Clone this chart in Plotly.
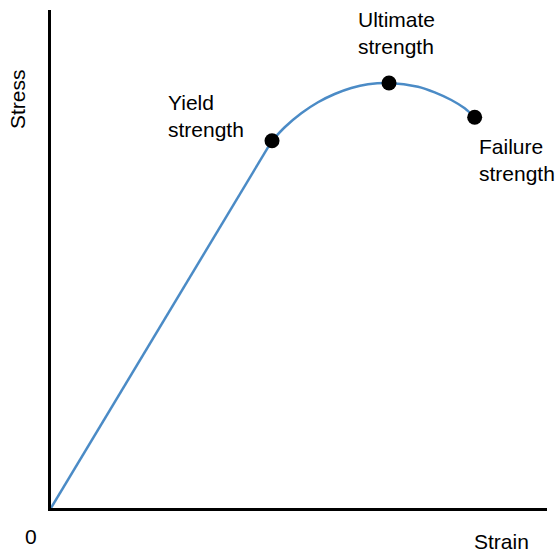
import plotly.graph_objects as go

# Stress–strain curve, normalised units (strain and stress both on 0..1)
linear_strain = [0.0, 0.4456]
linear_stress = [0.0, 0.7375]

plastic_strain = [0.4456, 0.4712, 0.5046, 0.5383, 0.572, 0.6054, 0.6391, 0.6815,
                  0.7399, 0.7736, 0.8071, 0.8341, 0.8542]
plastic_stress = [0.7375, 0.7645, 0.7926, 0.8147, 0.8313, 0.8434, 0.8508, 0.8534,
                  0.846, 0.8347, 0.8193, 0.8026, 0.7845]

# Key points: yield, ultimate, failure
point_names = ["Yield strength", "Ultimate strength", "Failure strength"]
point_strain = [0.4456, 0.6815, 0.8542]
point_stress = [0.7375, 0.8534, 0.7845]

FONT = "Liberation Sans, Arial, Helvetica, sans-serif"
CURVE = "#4b8bc6"
FS = 21

fig = go.Figure()
fig.add_trace(go.Scatter(x=linear_strain, y=linear_stress, mode="lines",
                         line=dict(color=CURVE, width=2.5), hoverinfo="skip"))
fig.add_trace(go.Scatter(x=plastic_strain, y=plastic_stress, mode="lines",
                         line=dict(color=CURVE, width=2.5, shape="spline", smoothing=0.8),
                         hoverinfo="skip"))
fig.add_trace(go.Scatter(x=point_strain, y=point_stress, mode="markers",
                         marker=dict(color="black", size=15), text=point_names))

W, H = 556, 552
L, R, T, B = 51, 9, 10, 44
pw, ph = W - L - R, H - T - B


def px(x):
    return (x - L) / pw


def py(y):
    return (H - B - y) / ph


labels = [
    ("Yield<br>strength", px(166), py(116), "left", "middle"),
    ("Ultimate<br>strength", px(396), py(33), "center", "middle"),
    ("Failure<br>strength", px(477), py(160), "left", "middle"),
]
annotations = []
for text, x, y, xa, ya in labels:
    annotations.append(dict(text=text, x=x, y=y, xref="paper", yref="paper",
                            xanchor=xa, yanchor=ya, align="left", showarrow=False,
                            font=dict(family=FONT, size=FS, color="black")))

annotations += [
    dict(text="Stress", x=px(17), y=py(99), xref="paper", yref="paper",
         xanchor="center", yanchor="middle", textangle=-90, showarrow=False,
         font=dict(family=FONT, size=FS, color="black")),
    dict(text="0", x=px(30.5), y=py(536.5), xref="paper", yref="paper",
         xanchor="center", yanchor="middle", showarrow=False,
         font=dict(family=FONT, size=FS, color="black")),
    dict(text="Strain", x=px(501), y=py(541), xref="paper", yref="paper",
         xanchor="center", yanchor="middle", showarrow=False, borderpad=0,
         font=dict(family=FONT, size=FS, color="black")),
]

axis_common = dict(range=[0, 1], showgrid=False, zeroline=False, showticklabels=False,
                   ticks="", showline=True, linecolor="black", linewidth=2.5, fixedrange=True)

fig.update_layout(
    width=W, height=H,
    margin=dict(l=L, r=R, t=T, b=B),
    paper_bgcolor="white", plot_bgcolor="white",
    showlegend=False,
    xaxis=axis_common,
    yaxis=axis_common,
    annotations=annotations,
    font=dict(family=FONT),
)

fig.write_html("out.html")
